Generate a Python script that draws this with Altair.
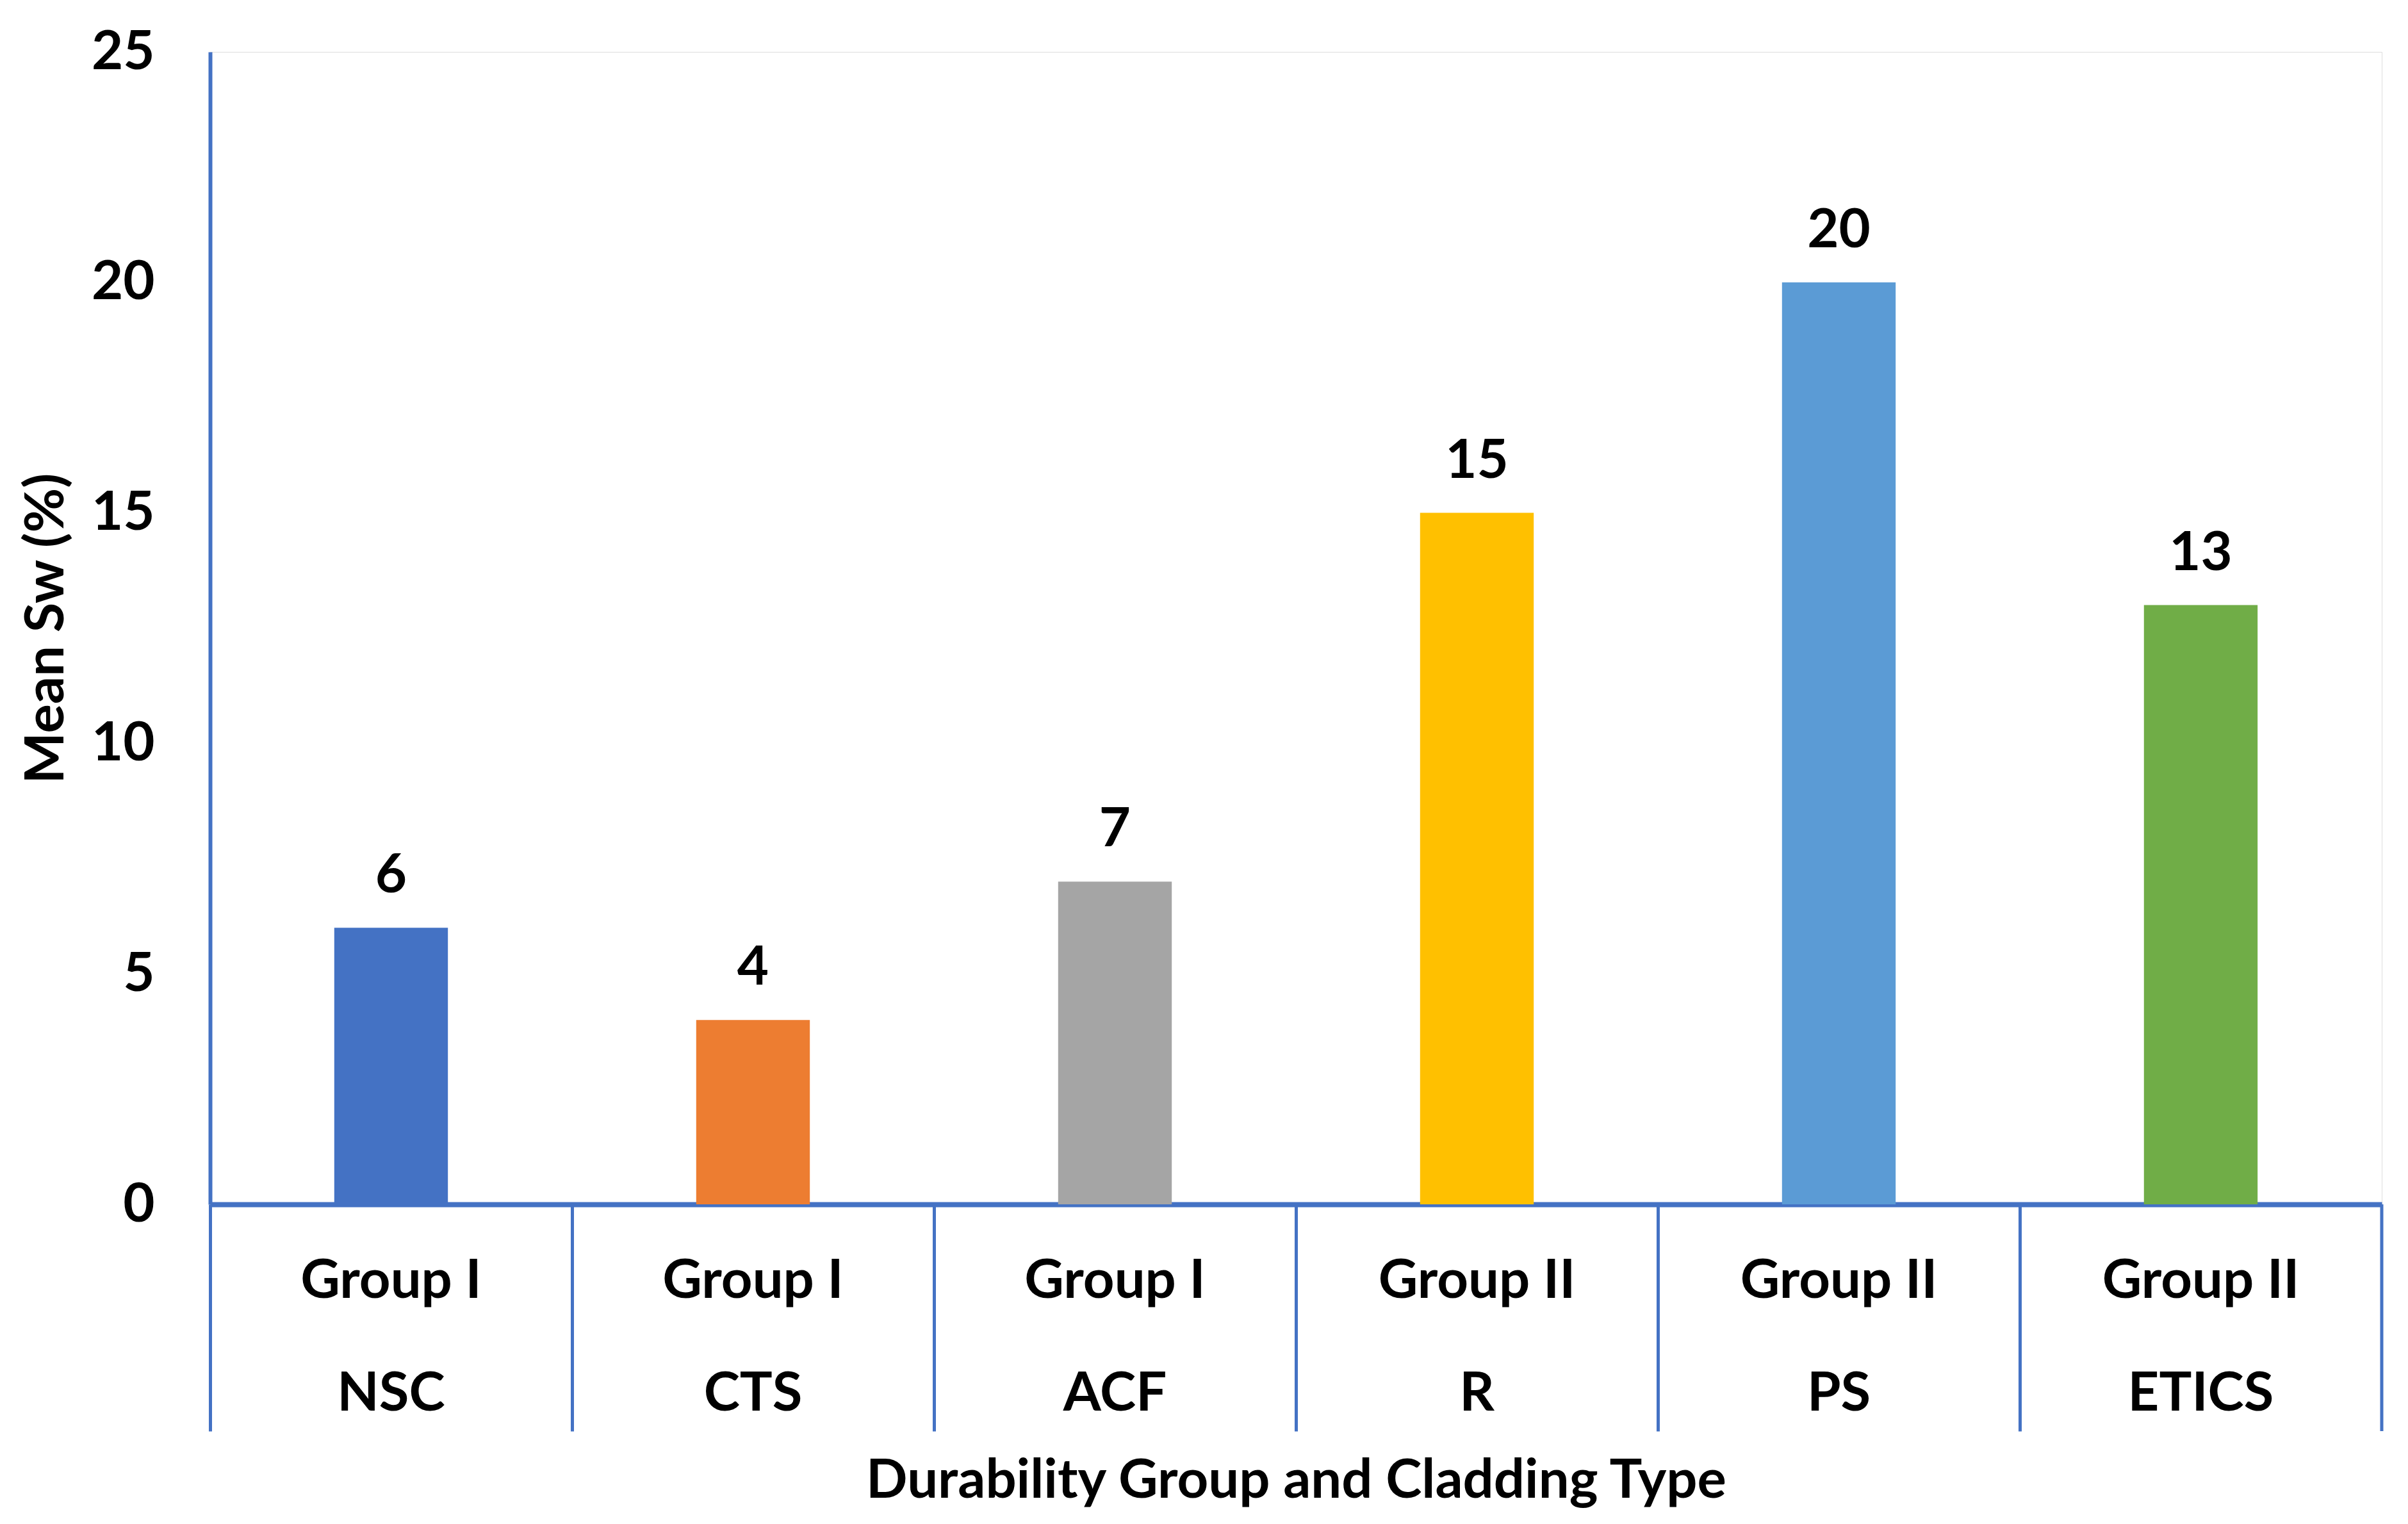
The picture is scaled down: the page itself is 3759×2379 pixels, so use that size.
import altair as alt
import pandas as pd

# ---- data ----
groups = ["Group I", "Group I", "Group I", "Group II", "Group II", "Group II"]
cladding = ["NSC", "CTS", "ACF", "R", "PS", "ETICS"]
mean_sw = [6, 4, 7, 15, 20, 13]
bar_colors = ["#4472C4", "#ED7D31", "#A5A5A5", "#FFC000", "#5B9BD5", "#70AD47"]
y_ticks = [0, 5, 10, 15, 20, 25]

df = pd.DataFrame({"group": groups, "cladding": cladding, "value": mean_sw, "color": bar_colors})

W, H = 3390, 1799
FONT = "Lato"
FS = 85
BLUE = "#4472C4"
DIV = 354  # length of category divider lines below the baseline

x_enc = alt.X(
    "cladding:N",
    sort=cladding,
    scale=alt.Scale(paddingInner=0, paddingOuter=0),
    axis=alt.Axis(
        labels=False,
        ticks=True,
        tickSize=DIV,
        tickWidth=5,
        tickColor=BLUE,
        bandPosition=0,
        domainColor=BLUE,
        domainWidth=8,
        title="Durability Group and Cladding Type",
        titleFont=FONT,
        titleFontSize=FS,
        titleFontWeight="bold",
        titleColor="black",
        titleBaseline="middle",
        titleY=431,
    ),
)

y_enc = alt.Y(
    "value:Q",
    scale=alt.Scale(domain=[0, 25], nice=False),
    axis=alt.Axis(
        values=y_ticks,
        format="d",
        grid=False,
        ticks=False,
        domainColor=BLUE,
        domainWidth=6,
        labelFont=FONT,
        labelFontSize=FS,
        labelFontWeight="bold",
        labelColor="black",
        labelPadding=87,
        title="Mean Sw (%)",
        titleFont=FONT,
        titleFontSize=FS,
        titleFontWeight="bold",
        titleColor="black",
        titlePadding=26,
    ),
)

base = alt.Chart(df)

bars = base.mark_bar(width=alt.RelativeBandSize(0.314)).encode(
    x=x_enc,
    y=y_enc,
    color=alt.Color("color:N", scale=None),
)

values_txt = base.mark_text(
    dy=-55, baseline="alphabetic", font=FONT, fontSize=FS, fontWeight="bold", color="black"
).encode(
    x=alt.X("cladding:N", sort=cladding),
    y=alt.Y("value:Q"),
    text=alt.Text("value:Q"),
)

group_txt = base.mark_text(
    baseline="middle", font=FONT, fontSize=FS, fontWeight="bold", color="black"
).encode(
    x=alt.X("cladding:N", sort=cladding),
    y=alt.value(H + 120),
    text="group:N",
)

clad_txt = base.mark_text(
    baseline="middle", font=FONT, fontSize=FS, fontWeight="bold", color="black"
).encode(
    x=alt.X("cladding:N", sort=cladding),
    y=alt.value(H + 296),
    text="cladding:N",
)

right_edge = alt.Chart(pd.DataFrame({"edge": [0]})).mark_rule(color=BLUE, strokeWidth=5).encode(
    x=alt.value(W),
    y=alt.value(H),
    y2=alt.value(H + DIV),
)

chart = (
    alt.layer(bars, values_txt, group_txt, clad_txt, right_edge)
    .properties(width=W, height=H, padding={"left": 22, "top": 31, "right": 10, "bottom": 5})
    .configure_view(strokeWidth=0, strokeOpacity=0)
    .configure(background="white")
)

chart.save("out.html", embed_options={"renderer": "svg", "actions": False})
